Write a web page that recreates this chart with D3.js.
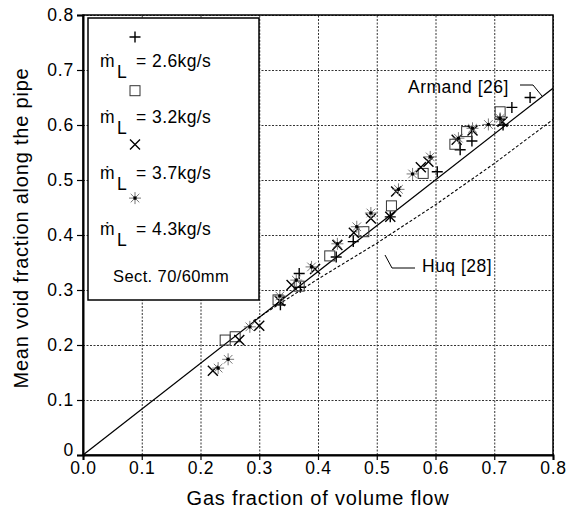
<!DOCTYPE html>
<html>
<head>
<meta charset="utf-8">
<script src="https://cdn.jsdelivr.net/npm/d3@7"></script>
<style>
  body { margin: 0; background: #fff; }
  text { font-family: "Liberation Sans", Arial, sans-serif; fill: #000; }
</style>
</head>
<body>
<div id="chart"></div>
<script>
// data
const plusX  = [0.336, 0.368, 0.370, 0.431, 0.460, 0.523, 0.603, 0.642, 0.662, 0.710, 0.715, 0.730, 0.761]
const plusY  = [0.273, 0.330, 0.305, 0.360, 0.388, 0.433, 0.515, 0.555, 0.571, 0.611, 0.600, 0.632, 0.650]
const squareX = [0.242, 0.259, 0.332, 0.368, 0.420, 0.478, 0.525, 0.579, 0.633, 0.653, 0.710]
const squareY = [0.209, 0.215, 0.282, 0.307, 0.362, 0.406, 0.453, 0.512, 0.565, 0.588, 0.624]
const crossX = [0.221, 0.266, 0.300, 0.335, 0.355, 0.395, 0.433, 0.461, 0.490, 0.523, 0.533, 0.575, 0.588, 0.636, 0.663, 0.714]
const crossY = [0.153, 0.209, 0.235, 0.280, 0.309, 0.338, 0.382, 0.404, 0.430, 0.433, 0.479, 0.523, 0.533, 0.573, 0.590, 0.606]
const starX = [0.230, 0.247, 0.284, 0.335, 0.363, 0.389, 0.433, 0.466, 0.490, 0.537, 0.561, 0.591, 0.639, 0.663, 0.690, 0.710]
const starY = [0.158, 0.174, 0.233, 0.289, 0.318, 0.342, 0.384, 0.415, 0.440, 0.483, 0.511, 0.542, 0.576, 0.594, 0.601, 0.612]

const armandX = [0, 0.8]
const armandY = [0, 0.667]
const huqX = [0.29, 0.4, 0.5, 0.6, 0.7, 0.8]
const huqY = [0.244, 0.32, 0.385, 0.455, 0.53, 0.61]

const legendLabels = ["2.6kg/s", "3.2kg/s", "3.7kg/s", "4.3kg/s"]
const xTicks = [0, 0.1, 0.2, 0.3, 0.4, 0.5, 0.6, 0.7, 0.8]
const yTicks = [0, 0.1, 0.2, 0.3, 0.4, 0.5, 0.6, 0.7, 0.8]

const margin = { top: 15, right: 16, bottom: 57, left: 83 },
  width = 470,
  height = 440

const root = d3.select("#chart")
  .append("svg")
  .attr("width", 569)
  .attr("height", 512)

const svg = root.append("g")
  .attr("transform", `translate(${margin.left}, ${margin.top})`)

const x = d3.scaleLinear().domain([0, 0.8]).range([0, width])
const y = d3.scaleLinear().domain([0, 0.8]).range([height, 0])

// grid lines
svg.append("g")
  .attr("class", "grid")
  .call(d3.axisLeft(y).tickValues(yTicks).tickSize(-width).tickFormat(""))
svg.append("g")
  .attr("class", "grid")
  .attr("transform", `translate(0, ${height})`)
  .call(d3.axisBottom(x).tickValues(xTicks).tickSize(-height).tickFormat(""))
svg.selectAll(".grid .domain").remove()
svg.selectAll(".grid line")
  .attr("stroke", "#333")
  .attr("stroke-width", 1)
  .style("stroke-dasharray", "2,1.5")

// frame
svg.append("rect")
  .attr("width", width)
  .attr("height", height)
  .attr("fill", "none")
  .attr("stroke", "#000")
  .attr("stroke-width", 1.5)

// y-Axis
const yAxis = svg.append("g")
  .call(d3.axisLeft(y).tickValues(yTicks).tickSize(6).tickPadding(3)
    .tickFormat(d => d === 0 ? "0" : d3.format(".1f")(d)))
// x-Axis
const xAxis = svg.append("g")
  .attr("transform", `translate(0, ${height})`)
  .call(d3.axisBottom(x).tickValues(xTicks).tickSize(5).tickPadding(2)
    .tickFormat(d3.format(".1f")))
;[xAxis, yAxis].forEach(a => {
  a.select(".domain").attr("stroke-width", 2)
  a.selectAll("line").attr("stroke-width", 1.2)
  a.selectAll("text")
    .style("font-family", "Liberation Sans, Arial, sans-serif")
    .style("font-size", "17.5px")
    .style("letter-spacing", "0.8px")
    .attr("fill", "#000")
})
// lift the y "0" a little so it clears the x "0.0"
yAxis.selectAll(".tick text").filter(d => d === 0).attr("dy", "0.05em")

// correlation lines
const line = d3.line().x(d => x(d[0])).y(d => y(d[1]))
svg.append("path")
  .datum(d3.zip(armandX, armandY))
  .attr("fill", "none")
  .attr("stroke", "#000")
  .attr("stroke-width", 1.3)
  .attr("d", line)
svg.append("path")
  .datum(d3.zip(huqX, huqY))
  .attr("fill", "none")
  .attr("stroke", "#000")
  .attr("stroke-width", 1.1)
  .style("stroke-dasharray", "3,2")
  .attr("d", line)

// markers
function drawMarker(g, kind) {
  if (kind === "plus") {
    g.append("path").attr("d", "M-5.5,0H5.5M0,-5.5V5.5")
      .attr("stroke", "#000").attr("stroke-width", 1.4)
  } else if (kind === "square") {
    g.append("rect").attr("x", -5).attr("y", -5).attr("width", 10).attr("height", 10)
      .attr("fill", "none").attr("stroke", "#333").attr("stroke-width", 1)
  } else if (kind === "cross") {
    g.append("path").attr("d", "M-5,-5L5,5M-5,5L5,-5")
      .attr("stroke", "#000").attr("stroke-width", 1.4)
  } else {
    g.append("path").attr("d", "M-6,0H6M0,-6V6M-4.3,-4.3L4.3,4.3M-4.3,4.3L4.3,-4.3")
      .attr("stroke", "#777").attr("stroke-width", 1)
    g.append("circle").attr("r", 1.8).attr("fill", "#000")
  }
}

const series = [
  { kind: "plus", xs: plusX, ys: plusY },
  { kind: "square", xs: squareX, ys: squareY },
  { kind: "cross", xs: crossX, ys: crossY },
  { kind: "star", xs: starX, ys: starY }
]
series.forEach(s => {
  svg.selectAll(null)
    .data(d3.zip(s.xs, s.ys))
    .enter()
    .append("g")
    .attr("transform", d => `translate(${x(d[0])}, ${y(d[1])})`)
    .each(function () { drawMarker(d3.select(this), s.kind) })
})

// labels with leaders
svg.append("text")
  .attr("x", 325)
  .attr("y", 78)
  .style("font-size", "17.5px")
  .style("letter-spacing", "0.5px")
  .text("Armand [26]")
svg.append("path")
  .attr("d", "M437,70H450L459,81")
  .attr("fill", "none").attr("stroke", "#000").attr("stroke-width", 1)
svg.append("text")
  .attr("x", 339)
  .attr("y", 257)
  .style("font-size", "17.5px")
  .style("letter-spacing", "0.5px")
  .text("Huq [28]")
svg.append("path")
  .attr("d", "M302,240L309,253H332")
  .attr("fill", "none").attr("stroke", "#000").attr("stroke-width", 1)

// legend
const legend = root.append("g")
legend.append("rect")
  .attr("x", 88).attr("y", 18).attr("width", 171).attr("height", 282)
  .attr("fill", "#fff").attr("stroke", "#000").attr("stroke-width", 1.5)
series.forEach((s, i) => {
  const g = legend.append("g").attr("transform", `translate(135, ${37 + i * 53.7})`)
  drawMarker(g, s.kind)
  const base = 67 + i * 56
  const t = legend.append("text")
    .attr("y", base)
    .style("font-size", "17.5px")
  t.append("tspan").attr("x", 100).text("ṁ")
  t.append("tspan").attr("x", 117).attr("dy", 11).text("L")
  t.append("tspan").attr("x", 136).attr("dy", -11).text("=")
  t.append("tspan").attr("x", 152).style("letter-spacing", "0.4px").text(legendLabels[i])
})
legend.append("text")
  .attr("x", 113)
  .attr("y", 282)
  .style("font-size", "16.5px")
  .style("letter-spacing", "0.4px")
  .text("Sect. 70/60mm")

// axis labels
root.append("text")
  .attr("x", 318)
  .attr("y", 505)
  .style("text-anchor", "middle")
  .style("font-size", "20px")
  .style("letter-spacing", "0.8px")
  .text("Gas fraction of volume flow")
root.append("text")
  .attr("transform", "translate(28, 228) rotate(-90)")
  .style("text-anchor", "middle")
  .style("font-size", "20px")
  .style("letter-spacing", "0.8px")
  .text("Mean void fraction along the pipe")
</script>
</body>
</html>
